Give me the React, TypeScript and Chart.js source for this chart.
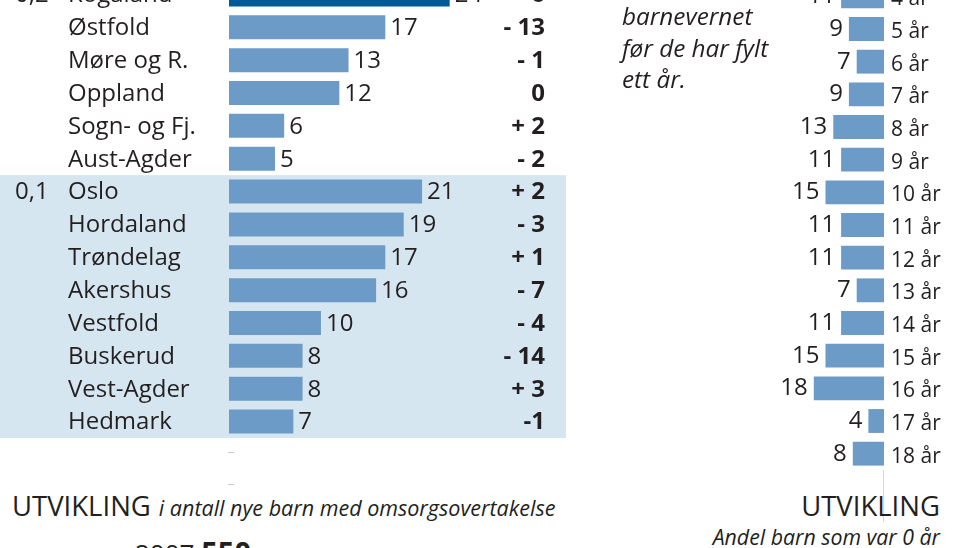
import React, { useEffect, useRef } from "react";
import { Chart, registerables } from "chart.js";
Chart.register(...registerables);

const regions = ["Rogaland", "Østfold", "Møre og R.", "Oppland", "Sogn- og Fj.", "Aust-Agder", "Oslo", "Hordaland", "Trøndelag", "Akershus", "Vestfold", "Buskerud", "Vest-Agder", "Hedmark"];
const regionValues = [24, 17, 13, 12, 6, 5, 21, 19, 17, 16, 10, 8, 8, 7];
const regionChanges = ["+ 6", "- 13", "- 1", "0", "+ 2", "- 2", "+ 2", "- 3", "+ 1", "- 7", "- 4", "- 14", "+ 3", "-1"];
const groupLabels = ["0,2", "", "", "", "", "", "0,1", "", "", "", "", "", "", ""];
const ages = ["4 år", "5 år", "6 år", "7 år", "8 år", "9 år", "10 år", "11 år", "12 år", "13 år", "14 år", "15 år", "16 år", "17 år", "18 år"];
const ageValues = [11, 9, 7, 9, 13, 11, 15, 11, 11, 7, 11, 15, 18, 4, 8];

const FONT = "'Open Sans', 'Noto Sans', sans-serif";
const TEXT = "#231f20";
const BAR = "#6b9bc6";
const DARK = "#005a96";
const BAND = "#d6e6f1";

function LeftChart() {
  const ref = useRef<HTMLCanvasElement>(null);
  useEffect(() => {
    const labelsPlugin = {
      id: "leftLabels",
      beforeDatasetsDraw(chart: any) {
        const ctx = chart.ctx;
        const y = chart.scales.y;
        const step = y.getPixelForValue(1) - y.getPixelForValue(0);
        const top = y.getPixelForValue(6) - step / 2;
        const bottom = y.getPixelForValue(regions.length - 1) + step / 2;
        ctx.save();
        ctx.fillStyle = BAND;
        ctx.fillRect(0, top, 566, bottom - top);
        ctx.restore();
      },
      afterDatasetsDraw(chart: any) {
        const ctx = chart.ctx;
        const x = chart.scales.x;
        const y = chart.scales.y;
        ctx.save();
        ctx.fillStyle = TEXT;
        ctx.textBaseline = "middle";
        regions.forEach((r, i) => {
          const py = y.getPixelForValue(i) + 1;
          ctx.font = `24px ${FONT}`;
          ctx.textAlign = "left";
          ctx.fillText(r, 68, py);
          if (groupLabels[i]) ctx.fillText(groupLabels[i], 15, py);
          ctx.fillText(String(regionValues[i]), x.getPixelForValue(regionValues[i]) + 5, py);
          ctx.font = `bold 24px ${FONT}`;
          ctx.textAlign = "right";
          ctx.fillText(regionChanges[i], 545, py);
        });
        ctx.restore();
      },
    };
    const chart = new Chart(ref.current!, {
      type: "bar",
      data: {
        labels: regions,
        datasets: [
          {
            data: regionValues,
            backgroundColor: regionValues.map((_, i) => (i === 0 ? DARK : BAR)),
            barPercentage: 0.73,
            categoryPercentage: 1,
          },
        ],
      },
      options: {
        indexAxis: "y",
        animation: false,
        responsive: false,
        maintainAspectRatio: false,
        layout: { padding: { left: 229, right: 20, top: 0, bottom: 0 } },
        plugins: { legend: { display: false }, tooltip: { enabled: false } },
        scales: {
          x: { display: false, min: 0, max: 36 },
          y: { display: false },
        },
      },
      plugins: [labelsPlugin],
    });
    return () => chart.destroy();
  }, []);
  return <canvas ref={ref} width={580} height={460} style={{ position: "absolute", left: 0, top: -22, width: 580, height: 460 }} />;
}

function RightChart() {
  const ref = useRef<HTMLCanvasElement>(null);
  useEffect(() => {
    const labelsPlugin = {
      id: "rightLabels",
      afterDatasetsDraw(chart: any) {
        const ctx = chart.ctx;
        const x = chart.scales.x;
        const y = chart.scales.y;
        ctx.save();
        ctx.fillStyle = TEXT;
        ctx.textBaseline = "middle";
        ages.forEach((a, i) => {
          const py = y.getPixelForValue(i);
          ctx.font = `21px ${FONT}`;
          ctx.textAlign = "left";
          ctx.fillText(a, 291, py + 3);
          ctx.font = `24px ${FONT}`;
          ctx.textAlign = "right";
          ctx.fillText(String(ageValues[i]), x.getPixelForValue(ageValues[i]) - 6, py);
        });
        ctx.restore();
      },
    };
    const chart = new Chart(ref.current!, {
      type: "bar",
      data: {
        labels: ages,
        datasets: [
          {
            data: ageValues,
            backgroundColor: BAR,
            barPercentage: 0.73,
            categoryPercentage: 1,
          },
        ],
      },
      options: {
        indexAxis: "y",
        animation: false,
        responsive: false,
        maintainAspectRatio: false,
        layout: { padding: { left: 50, right: 76, top: 0, bottom: 0 } },
        plugins: { legend: { display: false }, tooltip: { enabled: false } },
        scales: {
          x: { display: false, min: 0, max: 60, reverse: true },
          y: { display: false },
        },
      },
      plugins: [labelsPlugin],
    });
    return () => chart.destroy();
  }, []);
  return <canvas ref={ref} width={360} height={490} style={{ position: "absolute", left: 600, top: -20, width: 360, height: 490 }} />;
}

const abs = (left: number, top: number, extra: any = {}) => ({
  position: "absolute" as const,
  left,
  top,
  whiteSpace: "nowrap" as const,
  color: TEXT,
  fontFamily: FONT,
  lineHeight: 1,
  ...extra,
});

export default function App() {
  return (
    <div style={{ position: "absolute", left: 0, top: 0, width: 960, height: 548, overflow: "hidden", background: "#fff" }}>
      <LeftChart />
      <RightChart />
      <div style={abs(622, 0, { fontStyle: "italic", fontSize: 24.3, lineHeight: "31.5px" })}>
        barnevernet
        <br />
        før de har fylt
        <br />
        ett år.
      </div>
      <div style={{ position: "absolute", left: 883, top: 470, width: 1, height: 52, background: "#d9d9d9" }} />
      <div style={{ position: "absolute", left: 228, top: 452, width: 6, height: 1, background: "#c8c8c8" }} />
      <div style={{ position: "absolute", left: 228, top: 484, width: 6, height: 1, background: "#c8c8c8" }} />
      <div style={abs(12, 492, { fontSize: 27.5 })}>
        UTVIKLING<span style={{ fontStyle: "italic", fontSize: 21.5, marginLeft: 8 }}>i antall nye barn med omsorgsovertakelse</span>
      </div>
      <div style={abs(0, 492, { fontSize: 27.5, left: "auto", right: 20 })}>UTVIKLING</div>
      <div style={abs(0, 526, { fontSize: 21.3, fontStyle: "italic", left: "auto", right: 20 })}>Andel barn som var 0 år</div>
      <div style={abs(135, 537, { fontSize: 26 })}>
        2007 <b style={{ fontSize: 29 }}>550</b>
      </div>
    </div>
  );
}
